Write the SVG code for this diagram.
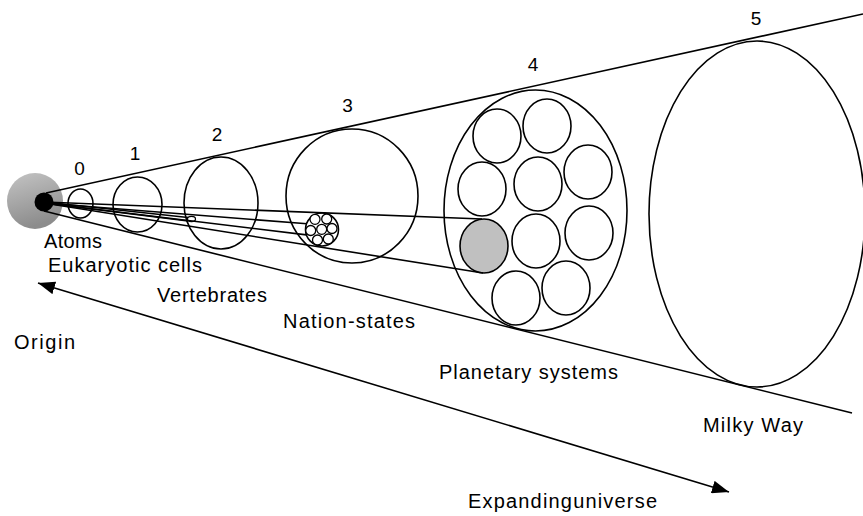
<svg xmlns="http://www.w3.org/2000/svg" width="863" height="516" viewBox="0 0 863 516">
<defs>
<linearGradient id="gOrigin" x1="0" y1="0" x2="0.3" y2="1">
<stop offset="0" stop-color="#c4c4c4"/>
<stop offset="1" stop-color="#8c8c8c"/>
</linearGradient>
<marker id="ah" markerUnits="userSpaceOnUse" markerWidth="18" markerHeight="13" refX="17" refY="6.5" orient="auto-start-reverse" viewBox="0 0 18 13">
<path d="M0,0 L17,6.5 L0,13 z" fill="#000"/>
</marker>
</defs>
<style>
.s{fill:none;stroke:#000;stroke-width:1.6}
.w{fill:#fff;stroke:#000;stroke-width:1.6}
.sm{fill:#fff;stroke:#000;stroke-width:1.3}
.l{stroke:#000;stroke-width:1.6;fill:none}
text{font-family:"Liberation Sans",Arial,Helvetica,sans-serif;font-size:20px;fill:#000}
.n{text-anchor:middle;font-size:19px}
</style>
<rect width="863" height="516" fill="#fff"/>

<g id="origin">
<circle cx="35" cy="201" r="28" fill="url(#gOrigin)"/>
</g>

<g id="circle0"><ellipse class="s" cx="80.5" cy="203.5" rx="12.5" ry="14.5"/></g>
<g id="circle1"><ellipse class="s" cx="137.5" cy="204.5" rx="24.5" ry="27.5"/></g>
<g id="circle2">
<ellipse class="s" cx="221" cy="203" rx="37" ry="46"/>
<ellipse class="s" cx="191.5" cy="219" rx="4" ry="2.6" style="stroke-width:1.2"/>
</g>
<g id="circle3">
<ellipse class="s" cx="352" cy="196" rx="66" ry="67"/>
<g id="cluster">
<circle class="w" cx="322" cy="229.5" r="16.5"/>
<circle class="sm" cx="321.7" cy="229.3" r="5"/>
<circle class="sm" cx="315" cy="219.3" r="5"/>
<circle class="sm" cx="326.7" cy="219" r="5"/>
<circle class="sm" cx="310.7" cy="230.5" r="5"/>
<circle class="sm" cx="332" cy="228.5" r="5"/>
<circle class="sm" cx="317.5" cy="240" r="5"/>
<circle class="sm" cx="328.3" cy="239" r="5"/>
</g>
</g>
<g id="circle4">
<ellipse class="s" cx="535.5" cy="210.5" rx="91.5" ry="120.5"/>
<ellipse class="w" cx="497" cy="136" rx="24" ry="27"/>
<ellipse class="w" cx="547" cy="126" rx="24" ry="27"/>
<ellipse class="w" cx="588" cy="172" rx="24" ry="27"/>
<ellipse class="w" cx="482" cy="189" rx="24" ry="27"/>
<ellipse class="w" cx="538" cy="184" rx="24" ry="27"/>
<ellipse class="w" cx="589" cy="233" rx="24" ry="27"/>
<ellipse class="w" cx="484" cy="246" rx="24" ry="27" style="fill:#c0c0c0"/>
<ellipse class="w" cx="536" cy="241" rx="24" ry="27"/>
<ellipse class="w" cx="516" cy="298" rx="24" ry="27"/>
<ellipse class="w" cx="566" cy="288" rx="24" ry="27"/>
</g>
<g id="circle5"><ellipse class="s" cx="757" cy="214" rx="108" ry="173"/></g>

<g id="connectors">
<line class="l" x1="46" y1="193" x2="863" y2="14"/>
<line class="l" x1="44" y1="211" x2="852" y2="413"/>
<line class="l" x1="44" y1="202" x2="482" y2="219"/>
<line class="l" x1="44" y1="203" x2="483" y2="273"/>
<line class="l" x1="44" y1="202" x2="188" y2="217.5"/>
<line class="l" x1="44" y1="203" x2="188" y2="221"/>
<line class="l" x1="44" y1="203" x2="307" y2="223.8"/>
<line class="l" x1="44" y1="203" x2="306.5" y2="234.9"/>
<line class="l" x1="38" y1="283" x2="729" y2="492" marker-start="url(#ah)" marker-end="url(#ah)"/>
</g>

<g id="dot"><circle cx="44" cy="202" r="9.5" fill="#000"/></g>

<g id="labels">
<text class="n" x="79.5" y="175">0</text>
<text class="n" x="135" y="160">1</text>
<text class="n" x="217" y="141">2</text>
<text class="n" x="347.5" y="112">3</text>
<text class="n" x="533" y="71">4</text>
<text class="n" x="756" y="25">5</text>
<text x="44" y="248" textLength="58" lengthAdjust="spacing">Atoms</text>
<text x="48" y="272" textLength="154" lengthAdjust="spacing">Eukaryotic cells</text>
<text x="157" y="302" textLength="110" lengthAdjust="spacing">Vertebrates</text>
<text x="14" y="349" textLength="61" lengthAdjust="spacing">Origin</text>
<text x="283" y="328" textLength="132" lengthAdjust="spacing">Nation-states</text>
<text x="439" y="379" textLength="179" lengthAdjust="spacing">Planetary systems</text>
<text x="703" y="432" textLength="100" lengthAdjust="spacing">Milky Way</text>
<text x="468" y="508" textLength="189" lengthAdjust="spacing">Expandinguniverse</text>
</g>
</svg>
